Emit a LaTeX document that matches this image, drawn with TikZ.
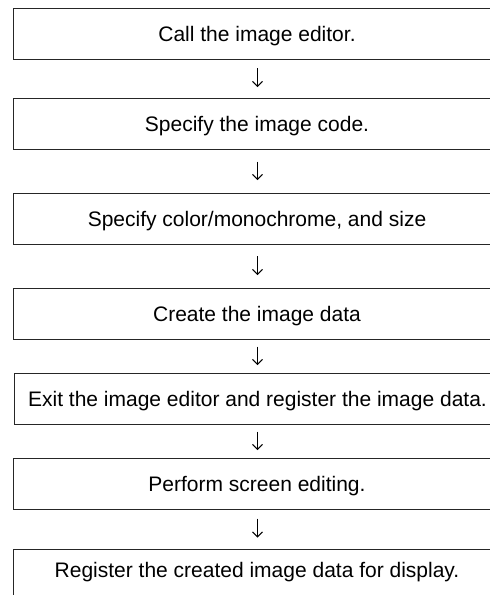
\documentclass[tikz,border=0pt]{standalone}
\usepackage{fontspec}
\setmainfont{Liberation Sans}
\usetikzlibrary{arrows.meta}
\begin{document}
\begin{tikzpicture}[x=1pt,y=-1pt,
  stepbox/.style={draw=black!85, line width=1pt, minimum width=488pt, minimum height=50.5pt,
    inner sep=0pt, text height=15pt, text depth=0pt, font=\fontsize{21}{25}\selectfont, anchor=north west},
  flowarrow/.style={draw=black, line width=0.9pt, -{Straight Barb[length=5pt,width=10pt,line width=0.9pt]}}]
\useasboundingbox (0,0) rectangle (490,595);
\clip (0,0) rectangle (490,595);
\node[stepbox, minimum height=51pt] (b1) at (12.5,8) {Call the image editor.};
\node[stepbox] (b2) at (12.5,98) {Specify the image code.};
\node[stepbox, minimum height=51pt] (b3) at (12.5,193) {Specify color/monochrome, and size};
\node[stepbox] (b4) at (12.5,288) {Create the image data};
\node[stepbox, minimum width=486pt] (b5) at (14,373) {Exit the image editor and register the image data.};
\node[stepbox] (b6) at (12.5,458) {Perform screen editing.};
\node[stepbox, inner ysep=13.5pt, text depth=60pt] (b7) at (12.5,548.5) {Register the created image data for display.};
\draw[flowarrow, shorten <=8pt, shorten >=11pt] ([xshift=0.5pt]b1.south) -- ([xshift=0.5pt]b1.south |- b2.north);
\draw[flowarrow, shorten <=12pt, shorten >=13pt] ([xshift=0.5pt]b2.south) -- ([xshift=0.5pt]b2.south |- b3.north);
\draw[flowarrow, shorten <=11pt, shorten >=13pt] ([xshift=0.5pt]b3.south) -- ([xshift=0.5pt]b3.south |- b4.north);
\draw[flowarrow, shorten <=7pt, shorten >=8pt] ([xshift=0.5pt]b4.south) -- ([xshift=0.5pt]b4.south |- b5.north);
\draw[flowarrow, shorten <=7pt, shorten >=8pt] ([xshift=0.5pt]b6.north |- b5.south) -- ([xshift=0.5pt]b6.north);
\draw[flowarrow, shorten <=9pt, shorten >=11pt] ([xshift=0.5pt]b6.south) -- ([xshift=0.5pt]b6.south |- b7.north);
\end{tikzpicture}
\end{document}
